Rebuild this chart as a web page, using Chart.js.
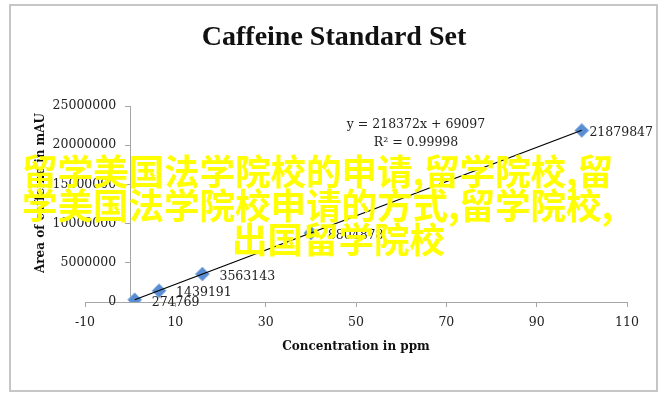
<!DOCTYPE html>
<html>
<head>
<meta charset="utf-8">
<script src="https://cdn.jsdelivr.net/npm/chart.js@4"></script>
<style>
    body { margin: 0; background: #fff; }
    #wrap { position: relative; width: 668px; height: 399px; }
    .overlay {
        position: absolute;
        font-family: "Noto Sans CJK SC", sans-serif;
        font-weight: 700;
        font-size: 35.5px;
        line-height: 35px;
        color: #ffff00;
        white-space: nowrap;
    }
</style>
</head>
<body>
<div id="wrap">
    <canvas id="chart" width="668" height="399"></canvas>
    <div class="overlay" style="left:22px; top:152px;">留学美国法学院校的申请,留学院校,留</div>
    <div class="overlay" style="left:22px; top:186px;">学美国法学院校申请的方式,留学院校,</div>
    <div class="overlay" style="left:232px; top:220px;">出国留学院校</div>
</div>
<script>
const concentration = [1, 6.4, 16, 40, 100];
const peakArea = [274769, 1439191, 3563143, 8804878, 21879847];
const trendX = [1, 100];
const trendY = [287469, 21906297];
const xTicks = [-10, 10, 30, 50, 70, 90, 110];
const yTicks = [0, 5000000, 10000000, 15000000, 20000000, 25000000];

const SERIF = '"DejaVu Serif", serif';
Chart.defaults.font.family = SERIF;
Chart.defaults.font.size = 12.5;
Chart.defaults.color = '#222';

// frame, title, axis titles, y tick labels, equation and point labels
const decorations = {
    id: 'decorations',
    beforeDraw(chart) {
        const ctx = chart.ctx;
        ctx.save();
        ctx.strokeStyle = '#c6c6c6';
        ctx.lineWidth = 2;
        ctx.strokeRect(10, 5, 647, 386);
        ctx.restore();
    },
    afterDraw(chart) {
        const ctx = chart.ctx;
        const ca = chart.chartArea;
        ctx.save();
        ctx.fillStyle = '#111';
        ctx.textAlign = 'center';
        ctx.textBaseline = 'middle';

        ctx.font = 'bold 28px "Liberation Serif", serif';
        ctx.fillText('Caffeine Standard Set', 334, 38);

        ctx.font = 'bold 12px ' + SERIF;
        ctx.fillText('Concentration in ppm', (ca.left + ca.right) / 2, 347);

        ctx.save();
        ctx.translate(41, 193);
        ctx.rotate(-Math.PI / 2);
        ctx.fillText('Area of caffeine in mAU', 0, 0);
        ctx.restore();

        ctx.font = '12.5px ' + SERIF;
        ctx.fillStyle = '#222';

        // y tick labels sit left of the axis, which crosses at x = 0
        const xs = chart.scales.x, ys = chart.scales.y;
        const axisX = xs.getPixelForValue(0);
        ctx.textAlign = 'right';
        yTicks.forEach(v => ctx.fillText(String(v), axisX - 14, ys.getPixelForValue(v)));

        ctx.textAlign = 'center';
        ctx.fillText('y = 218372x + 69097', 416, 125);
        ctx.fillText('R\u00b2 = 0.99998', 416, 143);

        // data labels to the right of each marker, kept inside the frame
        ctx.textAlign = 'left';
        const meta = chart.getDatasetMeta(0);
        meta.data.forEach((pt, i) => {
            const text = String(peakArea[i]);
            const w = ctx.measureText(text).width;
            const x = Math.min(pt.x + 17, 653 - w);
            ctx.fillText(text, x, pt.y + 2.5);
        });
        ctx.restore();
    }
};

new Chart(document.getElementById('chart'), {
    type: 'scatter',
    data: {
        datasets: [{
            label: 'Area',
            data: concentration.map((c, i) => ({ x: c, y: peakArea[i] })),
            pointStyle: 'rectRot',
            pointRadius: 7,
            backgroundColor: '#5a8ed2',
            borderColor: '#8fb3e3',
            borderWidth: 1,
            order: 1
        }, {
            label: 'Linear',
            data: trendX.map((c, i) => ({ x: c, y: trendY[i] })),
            showLine: true,
            pointRadius: 0,
            borderColor: '#000',
            borderWidth: 1.3,
            order: 0
        }]
    },
    options: {
        responsive: false,
        devicePixelRatio: 1,
        animation: false,
        layout: { padding: { left: 85, right: 41, top: 106, bottom: 61 } },
        plugins: {
            legend: { display: false },
            tooltip: { enabled: false }
        },
        scales: {
            x: {
                type: 'linear',
                position: 'bottom',
                min: -10,
                max: 110,
                afterBuildTicks: scale => { scale.ticks = xTicks.map(v => ({ value: v })); },
                ticks: { padding: 8, color: '#222' },
                grid: { drawOnChartArea: false, tickLength: 5, color: '#a6a6a6' },
                border: { color: '#a6a6a6' }
            },
            y: {
                type: 'linear',
                position: { x: 0 },
                min: 0,
                max: 25000000,
                afterBuildTicks: scale => { scale.ticks = yTicks.map(v => ({ value: v })); },
                ticks: { display: false },
                grid: { drawOnChartArea: false, tickLength: 5, color: '#a6a6a6' },
                border: { color: '#a6a6a6' }
            }
        }
    },
    plugins: [decorations]
});
</script>
</body>
</html>
